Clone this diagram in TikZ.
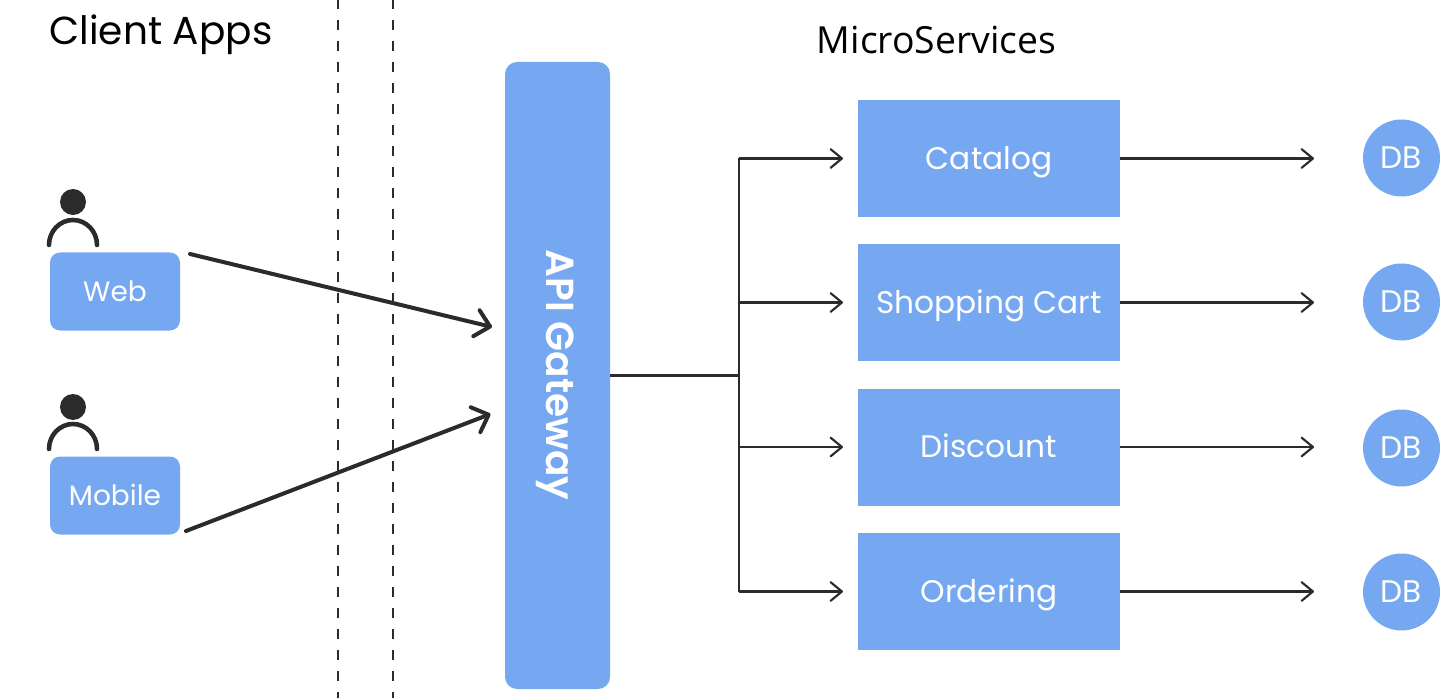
\documentclass[tikz,border=0pt]{standalone}
\usepackage{fontspec}
\setmainfont{Poppins}
\newfontfamily\headfont{Open Sans}
\newfontfamily\semifont{Poppins SemiBold}
\usetikzlibrary{arrows.meta}
\definecolor{panel}{HTML}{75A8F1}
\definecolor{ink}{HTML}{2B2B2B}
\tikzset{
  x=0.75pt,y=-0.75pt,
  heading/.style={inner sep=0pt,text=black,font=\headfont\fontsize{28pt}{32pt}\selectfont},
  base/.style={fill=panel,text=white,inner sep=0pt},
  client/.style={base,rounded corners=7.5pt,minimum width=97.5pt,minimum height=58.5pt,text height=14.7pt,text depth=0pt,font=\fontsize{21pt}{24pt}\selectfont},
  service/.style={base,minimum width=196.5pt,minimum height=87.75pt,text height=16.4pt,text depth=0pt,font=\fontsize{23.4pt}{26pt}\selectfont},
  store/.style={base,circle,minimum size=57.75pt,text height=16.4pt,text depth=0pt,font=\fontsize{23.4pt}{26pt}\selectfont},
  gateway/.style={fill=panel,rounded corners=9pt,minimum width=78.75pt,minimum height=470.25pt,inner sep=0pt},
  boundary/.style={ink,line width=1.9pt,dash pattern=on 8pt off 7.75pt,dash phase=1.1pt},
  head/.style={circle,fill=ink,minimum size=19.5pt,inner sep=0pt},
  shoulders/.style={ink,line width=3.4pt,line cap=round},
  flowbig/.style={ink,line width=3pt,line cap=round,-{Straight Barb[length=10.5pt,width=20pt,round]}},
  flow/.style={ink,line width=1.6pt,-{Straight Barb[length=8.5pt,width=14pt,round]}},
  trunk/.style={ink,line width=1.6pt},
}
\begin{document}
\begin{tikzpicture}
\useasboundingbox (0,0) rectangle (1444,698);

% zone boundaries
\coordinate (b1t) at (338,0); \coordinate (b1b) at (338,698);
\coordinate (b2t) at (393,0); \coordinate (b2b) at (393,698);
\draw[boundary] (b1t) -- (b1b);
\draw[boundary] (b2t) -- (b2b);

% headings
\node[heading,anchor=center,font=\fontsize{29.3pt}{34pt}\selectfont] (clienthead) at (161,35) {Client Apps};
\node[heading,anchor=center] (servicehead) at (936.5,40) {MicroServices};

% client applications with their users
\node[client] (web) at (115,291.5) {Web};
\node[client] (mobile) at (115,495.5) {Mobile};
\node[head] (webhead) at (73,202) {};
\node[head] (mobilehead) at (73,407) {};
\draw[shoulders] (49,245) arc[start angle=180,end angle=360,x radius=24,y radius=25];
\draw[shoulders] (49,449) arc[start angle=180,end angle=360,x radius=24,y radius=25];

% gateway
\node[gateway] (api) at (557.5,375.5) {};
\node[rotate=-90,text=white,inner sep=0pt,font=\semifont\fontsize{29.3pt}{32pt}\selectfont] (apilabel) at (555,375) {API Gateway};

% services
\node[service] (catalog) at (989,158.5) {Catalog};
\node[service] (cart) at (989,302.5) {Shopping Cart};
\node[service] (discount) at (989,447) {Discount};
\node[service] (ordering) at (989,591.5) {Ordering};

% databases
\node[store] (db1) at (1401.5,158) {DB};
\node[store] (db2) at (1401.5,302) {DB};
\node[store] (db3) at (1401.5,448) {DB};
\node[store] (db4) at (1401.5,592) {DB};

% client traffic into the gateway
\coordinate (webout) at (190,254);
\coordinate (webin) at (492,327);
\coordinate (mobout) at (186,531);
\coordinate (mobin) at (490.5,414);
\draw[flowbig] (webout) -- (webin);
\draw[flowbig] (mobout) -- (mobin);

% gateway routing tree
\coordinate (split) at (739,375.5);
\coordinate (t1) at (739,158.5);
\coordinate (t4) at (739,591.5);
\draw[trunk] (api.east |- split) -- (split);
\draw[trunk] (t1) -- (t4);
\foreach \svc/\name in {catalog/a,cart/b,discount/c,ordering/d}{
  \coordinate (in\name) at (843,0 |- \svc.west);
  \draw[flow] (739,0 |- \svc.west) -- (in\name);
}

% service to database links
\foreach \svc/\db in {catalog/db1,cart/db2,discount/db3,ordering/db4}{
  \coordinate (end\db) at (1314,0 |- \svc.east);
  \draw[flow] (\svc.east) -- (end\db);
}
\end{tikzpicture}
\end{document}
